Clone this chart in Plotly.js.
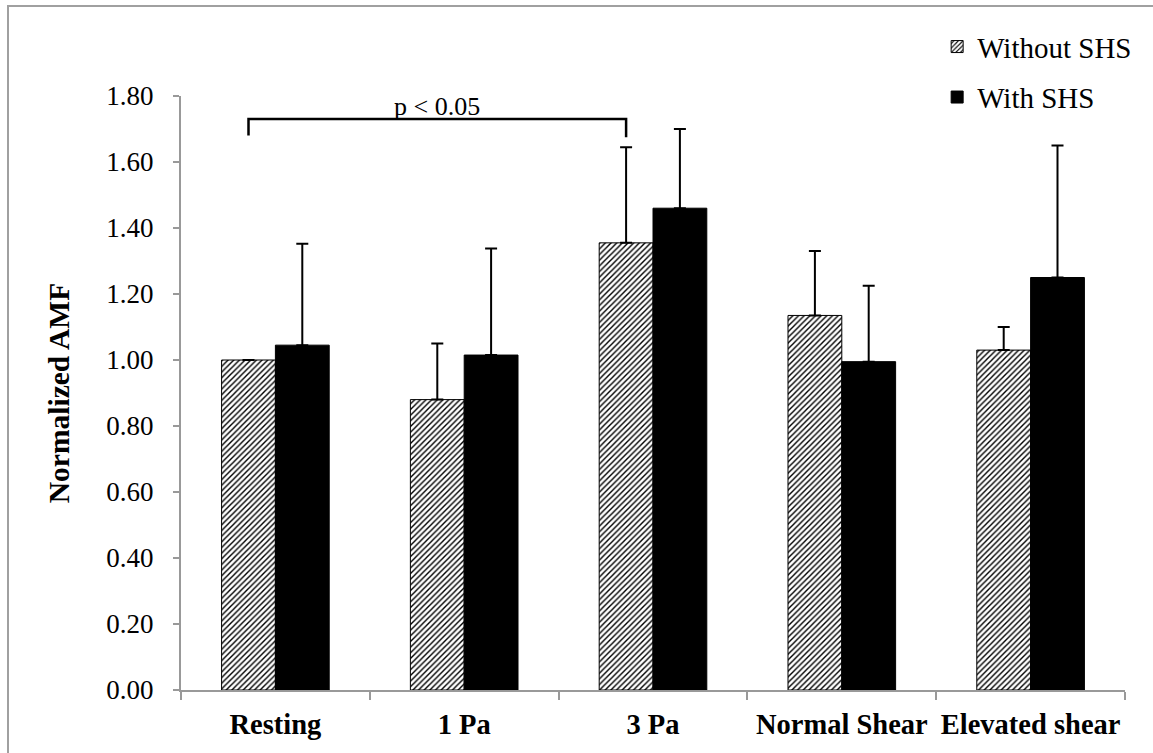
<!DOCTYPE html>
<html>
<head>
<meta charset="utf-8">
<script src="https://cdn.plot.ly/plotly-3.0.1.min.js"></script>
<style>
  html, body { margin: 0; padding: 0; background: #fff; }
  #wrap { position: relative; width: 1153px; height: 753px; overflow: hidden; }
  #chart { position: absolute; left: 0; top: 0; width: 1153px; height: 753px; }
  #frame { position: absolute; left: 7px; top: 5px; width: 1160px; height: 760px;
           border-left: 2px solid #a0a0a0; border-top: 2px solid #a0a0a0; pointer-events: none; }
</style>
</head>
<body>
<div id="wrap">
  <div id="chart"></div>
  <div id="frame"></div>
</div>
<script>
// ---- data ----
const categories = ["Resting", "1 Pa", "3 Pa", "Normal Shear", "Elevated shear"];
const seriesNames = ["Without SHS", "With SHS"];
const withoutSHS = [1.00, 0.88, 1.355, 1.135, 1.03];
const withoutSHSErr = [null, 0.17, 0.29, 0.195, 0.07];
const withSHS = [1.045, 1.015, 1.46, 0.995, 1.25];
const withSHSErr = [0.307, 0.323, 0.24, 0.23, 0.40];
const yTickVals = [0, 0.2, 0.4, 0.6, 0.8, 1.0, 1.2, 1.4, 1.6, 1.8];
const yAxisTitle = "Normalized AMF";
// significance bracket: between "Without SHS" bars of two categories
const bracketCats = ["Resting", "3 Pa"];
const bracketLevels = [1.68, 1.73, 1.675]; // left foot, bar, right foot
const bracketLabel = "p < 0.05";

// ---- style ----
const FONT = "Liberation Serif, Times New Roman, serif";
const bargap = 0.43;

const traces = [
  {
    type: "bar", name: seriesNames[0], x: categories, y: withoutSHS,
    marker: {
      color: "#ffffff",
      line: { color: "#000000", width: 1 },
      pattern: { shape: "/", fgcolor: "#000000", bgcolor: "#ffffff", size: 4, solidity: 0.35, fillmode: "replace" }
    },
    error_y: { type: "data", array: withoutSHSErr, arrayminus: withoutSHSErr.map(() => 0),
               symmetric: false, color: "#000000", thickness: 2, width: 6 },
    legend: "legend"
  },
  {
    type: "bar", name: seriesNames[1], x: categories, y: withSHS,
    marker: { color: "#000000", line: { color: "#000000", width: 1 } },
    error_y: { type: "data", array: withSHSErr, arrayminus: withSHSErr.map(() => 0),
               symmetric: false, color: "#000000", thickness: 2, width: 6 },
    legend: "legend2"
  }
];

const off = (1 - bargap) / 4;
const xL = categories.indexOf(bracketCats[0]) - off;
const xR = categories.indexOf(bracketCats[1]) - off;

const layout = {
  width: 1153, height: 753,
  margin: { l: 181, r: 28, t: 96, b: 63 },
  paper_bgcolor: "#ffffff", plot_bgcolor: "#ffffff",
  font: { family: FONT, color: "#000000", size: 27 },
  barmode: "group", bargap: bargap, bargroupgap: 0,
  showlegend: true,
  legend: {
    x: 0.801, y: 1.083, xanchor: "left", yanchor: "middle",
    font: { family: FONT, size: 29 }, bgcolor: "rgba(0,0,0,0)", itemwidth: 30
  },
  legend2: {
    x: 0.801, y: 0.998, xanchor: "left", yanchor: "middle",
    font: { family: FONT, size: 29 }, bgcolor: "rgba(0,0,0,0)", itemwidth: 30
  },
  xaxis: {
    type: "category", tickson: "boundaries", ticks: "outside", ticklen: 8, tickwidth: 2,
    tickcolor: "#999999", showline: true, linecolor: "#999999", linewidth: 2,
    showgrid: false, zeroline: false, ticklabelstandoff: 8, tickangle: 0, automargin: false,
    tickfont: { family: FONT, size: 28.5, weight: "bold" }
  },
  yaxis: {
    range: [0, 1.8], tickvals: yTickVals, tickformat: ".2f",
    ticks: "outside", ticklen: 6, tickwidth: 2, tickcolor: "#999999",
    showline: true, linecolor: "#999999", linewidth: 2, showgrid: false, zeroline: false,
    ticklabelstandoff: 14, automargin: false,
    tickfont: { family: FONT, size: 27 },
    title: { text: yAxisTitle, standoff: 28, font: { family: FONT, size: 29.5, weight: "bold" } }
  },
  shapes: [
    { type: "path", xref: "x", yref: "y",
      path: `M ${xL},${bracketLevels[0]} L ${xL},${bracketLevels[1]} L ${xR},${bracketLevels[1]} L ${xR},${bracketLevels[2]}`,
      line: { color: "#000000", width: 2.5 } }
  ],
  annotations: [
    { xref: "x", yref: "y", x: (xL + xR) / 2, y: bracketLevels[1], text: bracketLabel,
      showarrow: false, yanchor: "bottom", xanchor: "center", yshift: -4,
      font: { family: FONT, size: 26 } }
  ]
};

Plotly.newPlot("chart", traces, layout, { staticPlot: true });
</script>
</body>
</html>
